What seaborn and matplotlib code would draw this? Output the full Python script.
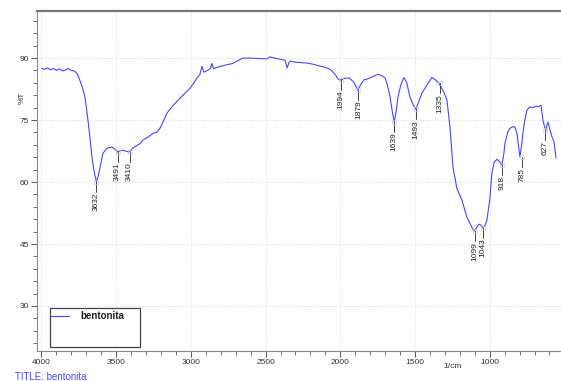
import numpy as np
import pandas as pd
import matplotlib
matplotlib.use("Agg")
import matplotlib.pyplot as plt
import seaborn as sns
from matplotlib.ticker import MultipleLocator, FixedLocator
from matplotlib.patches import Rectangle
from matplotlib.lines import Line2D

# ---- data ----
wavenumber = [4000, 3980, 3960, 3940, 3920, 3900, 3880, 3860, 3840, 3820, 3800, 3780, 3760, 3742, 3725,
              3709, 3689, 3675, 3662, 3645, 3632, 3620, 3608, 3588, 3560, 3530, 3510, 3491, 3470, 3454,
              3430, 3410, 3390, 3362, 3340, 3320, 3290, 3253, 3230, 3207, 3180, 3160, 3120, 3073, 3040,
              3006, 2980, 2960, 2940, 2926, 2913, 2900, 2886, 2870, 2860, 2848, 2840, 2800, 2760, 2719,
              2690, 2651, 2600, 2550, 2492, 2471, 2440, 2400, 2370, 2356, 2345, 2336, 2300, 2260, 2224,
              2180, 2140, 2115, 2080, 2055, 2030, 2015, 1994, 1970, 1940, 1910, 1882, 1860, 1840, 1822,
              1790, 1760, 1748, 1725, 1701, 1685, 1667, 1652, 1639, 1625, 1614, 1595, 1574, 1555, 1534,
              1510, 1494, 1475, 1454, 1420, 1387, 1365, 1340, 1310, 1286, 1266, 1246, 1220, 1186, 1153,
              1125, 1106, 1090, 1073, 1060, 1046, 1030, 1019, 1000, 986, 970, 952, 935, 918, 905,
              898, 880, 865, 845, 831, 818, 808, 798, 788, 778, 765, 751, 731, 710, 690,
              677, 657, 644, 634, 624, 617, 610, 596, 583, 570, 556]
transmittance = [87.5, 87.3, 87.6, 87.2, 87.5, 87.0, 87.4, 86.9, 87.1, 87.5, 87.0, 86.9, 86.2, 84.5, 82.8,
                 80.6, 75.0, 70.5, 66.0, 62.0, 60.0, 61.5, 63.6, 67.0, 68.2, 68.5, 68.0, 67.3, 67.6, 67.7,
                 67.4, 67.3, 68.2, 68.8, 69.3, 70.2, 70.8, 71.8, 72.0, 73.0, 75.0, 76.7, 78.5, 80.3, 81.5,
                 82.7, 84.0, 85.2, 86.0, 88.0, 86.6, 86.8, 87.1, 87.4, 88.7, 87.4, 87.6, 88.0, 88.4, 88.7,
                 89.3, 90.0, 90.0, 89.9, 89.8, 90.3, 90.0, 89.7, 89.5, 87.6, 88.8, 89.3, 89.0, 88.9, 88.8,
                 88.5, 88.1, 87.9, 87.5, 86.9, 85.8, 84.9, 84.7, 85.1, 85.2, 84.2, 82.3, 83.8, 84.8, 84.9,
                 85.4, 85.9, 86.1, 85.8, 85.2, 83.5, 80.6, 77.0, 74.5, 77.5, 80.6, 83.5, 85.3, 84.0, 80.6,
                 78.5, 77.6, 79.5, 81.5, 83.5, 85.3, 84.8, 83.9, 82.0, 79.8, 73.3, 63.6, 58.5, 55.6, 51.5,
                 49.5, 48.1, 48.8, 49.8, 49.6, 48.9, 49.6, 50.8, 55.6, 62.0, 64.8, 65.5, 65.0, 64.1, 67.0,
                 69.4, 72.0, 73.0, 73.4, 73.3, 71.8, 69.0, 66.1, 68.5, 71.8, 75.0, 77.4, 78.2, 78.0, 78.4,
                 78.2, 78.6, 75.0, 73.5, 72.6, 73.8, 74.5, 72.5, 70.9, 69.7, 65.8]

peak_labels = ["3632", "3491", "3410", "1994", "1879", "1639", "1493", "1335", "1099", "1043", "918", "785", "627"]
peak_positions = [3632, 3491, 3410, 1994, 1879, 1639, 1493, 1335, 1099, 1043, 918, 785, 627]
peak_values = [60.0, 67.3, 67.3, 84.7, 82.3, 74.5, 77.6, 83.9, 48.1, 48.9, 64.1, 66.1, 72.6]

x_ticks = [4000, 3500, 3000, 2500, 2000, 1500, 1000]
y_ticks = [30, 45, 60, 75, 90]
series_name = "bentonita"

# ---- figure ----
sns.set_theme(style="white")
plt.rcParams['font.family'] = ['Liberation Sans', 'DejaVu Sans']

fig = plt.figure(figsize=(5.61, 3.81), dpi=100)
ax = fig.add_axes([37/561, 1 - 351/381, 524/561, 340/381])

df = pd.DataFrame({"wn": wavenumber, "T": transmittance})
sns.lineplot(data=df, x="wn", y="T", ax=ax, color="#4646ff", linewidth=0.8,
             sort=False, estimator=None)

ax.set_xlim(4030, 523)
ax.set_ylim(19.1, 101.4)
ax.set_xlabel("")
ax.set_ylabel("")

ax.xaxis.set_major_locator(FixedLocator(x_ticks))
ax.xaxis.set_minor_locator(MultipleLocator(100))
ax.yaxis.set_major_locator(FixedLocator(y_ticks))
ax.yaxis.set_minor_locator(MultipleLocator(3))
ax.tick_params(axis="both", which="major", direction="out", length=4, width=0.7,
               color="#555555", labelsize=6, labelcolor="#333333", pad=1.5)
ax.tick_params(axis="both", which="minor", direction="out", length=3, width=0.6, color="#555555")
ax.tick_params(axis="x", which="both", bottom=True)
ax.tick_params(axis="y", which="both", left=True)

ax.grid(True, which="major", linestyle=(0, (1, 1.5)), color="#d8d8d8", linewidth=0.6)

for s in ["left", "bottom"]:
    ax.spines[s].set_color("#888888")
    ax.spines[s].set_linewidth(0.8)
ax.spines["right"].set_visible(False)
ax.spines["top"].set_color("#777777")
ax.spines["top"].set_linewidth(1.6)

# peak annotations
for lab, px, pv in zip(peak_labels, peak_positions, peak_values):
    ax.plot([px, px], [pv, pv - 2.4], color="#222222", linewidth=0.6)
    ax.plot([px], [pv], marker="s", markersize=3, markerfacecolor="none",
            markeredgecolor="#cccccc", markeredgewidth=0.5)
    ax.text(px, pv - 2.6, lab, rotation=90, ha="center", va="top", fontsize=6, color="#222222")

# x-axis unit
ax.text(1250, 19.1 - 2.9, "1/cm", ha="center", va="top", fontsize=6, color="#333333")

# y label
fig.text(22/561, 1 - 98/381, "%T", rotation=90, ha="center", va="center", fontsize=6, color="#333333")

# legend box (manual)
ax.add_patch(Rectangle((0.0248, 0.0118), 0.1718, 0.1147, transform=ax.transAxes,
                       facecolor="white", edgecolor="#444444", linewidth=0.9, zorder=5))
ax.add_line(Line2D([0.027, 0.061], [0.103, 0.103], transform=ax.transAxes,
                   color="#4646ff", linewidth=0.8, zorder=6))
ax.text(0.082, 0.103, series_name, transform=ax.transAxes, ha="left", va="center",
        fontsize=7, fontweight="bold", color="#222222", zorder=6)

# bottom title
fig.text(15/561, 1 - 377/381, "TITLE: " + series_name, ha="left", va="center",
         fontsize=7, color="#4a4aff")

fig.savefig("out.png", dpi=100)
